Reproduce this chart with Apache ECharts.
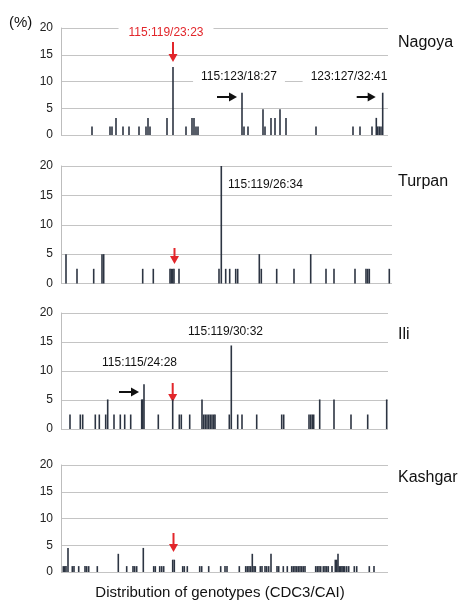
<!DOCTYPE html>
<html>
<head>
<meta charset="utf-8">
<script src="https://cdn.jsdelivr.net/npm/echarts@6/dist/echarts.min.js"></script>
<style>
  html, body { margin: 0; padding: 0; background: #fff; }
  #chart { width: 458px; height: 601px; }
</style>
</head>
<body>
<div id="chart"></div>
<script>
// genotype positions along the x axis (genotype order) and frequencies (%)
const nagoyaPos = [31, 49, 51, 55, 62, 68, 78, 85, 87, 89, 106, 112, 125, 131, 133, 135, 137, 181, 183, 187,
  202, 204, 210, 214, 219, 225, 255, 292, 299, 311, 315.3, 316.7, 318.3, 320, 321.7];
const nagoyaPct = [1.6, 1.6, 1.6, 3.2, 1.6, 1.6, 1.6, 1.6, 3.2, 1.6, 3.2, 12.7, 1.6, 3.2, 3.2, 1.6, 1.6, 7.9, 1.6, 1.6,
  4.8, 1.6, 3.2, 3.2, 4.8, 3.2, 1.6, 1.6, 1.6, 1.6, 3.2, 1.6, 1.6, 1.6, 7.9];

const turpanPos = [5, 16, 32.7, 41, 42.7, 81.7, 92.3, 109, 110.3, 111.7, 113, 118, 158, 160.3, 164.7, 168.7, 174.7, 176.7,
  198.3, 200.3, 215.7, 233, 249.7, 265, 273, 294, 305, 306.7, 308.3, 328.3];
const turpanPct = [5, 2.5, 2.5, 5, 5, 2.5, 2.5, 2.5, 2.5, 2.5, 2.5, 2.5, 2.5, 20, 2.5, 2.5, 2.5, 2.5,
  5, 2.5, 2.5, 2.5, 5, 2.5, 2.5, 2.5, 2.5, 2.5, 2.5, 2.5];

const iliPos = [9, 19.3, 21.7, 34.3, 38.3, 44.7, 46.7, 53, 59.3, 63.7, 69.7, 80.7, 81.7, 83, 97.3, 111.7, 118.3, 120.3,
  128.7, 141, 142.7, 144.3, 146, 147.7, 149.3, 151, 152.7, 154, 168.3, 170.3, 176.7, 181, 195.7, 220.7, 222.7,
  248, 249.7, 251.3, 252.7, 258.7, 273, 290, 306.7, 325.7];
const iliPct = [2.5, 2.5, 2.5, 2.5, 2.5, 2.5, 5.1, 2.5, 2.5, 2.5, 2.5, 5.1, 5.1, 7.7, 2.5, 5.1, 2.5, 2.5,
  2.5, 5.1, 2.5, 2.5, 2.5, 2.5, 2.5, 2.5, 2.5, 2.5, 2.5, 14.4, 2.5, 2.5, 2.5, 2.5, 2.5,
  2.5, 2.5, 2.5, 2.5, 5.1, 5.1, 2.5, 2.5, 5.1];

const kashgarPos = [2.3, 3.7, 5, 7, 11.3, 13, 17.7, 24, 25.7, 27.7, 36.3, 57.3, 65.7, 72, 73.7, 75.7, 82.3,
  92.7, 94.3, 98.7, 100.7, 102.7, 111.7, 113.3, 121.7, 123.3, 126.3, 138.7, 140.7, 147.7, 159.7, 164, 166,
  178.3, 184.7, 186.3, 188, 189.7, 191.3, 193, 194.3, 199.3, 201, 204, 205.7, 207.7, 210, 216, 217.7, 222.3,
  226.3, 230.7, 232.3, 234, 235.7, 237.3, 239, 240.7, 242.3, 244, 254.7, 256.3, 258, 259.7, 262.3, 264,
  265.7, 267.3, 271, 274.3, 275.7, 277, 278.3, 279.7, 281, 282.3, 283.7, 285.7, 287.7, 293.3, 295.7, 308.3, 313];
const kashgarPct = [1.1, 1.1, 1.1, 4.5, 1.1, 1.1, 1.1, 1.1, 1.1, 1.1, 1.1, 3.4, 1.1, 1.1, 1.1, 1.1, 4.5,
  1.1, 1.1, 1.1, 1.1, 1.1, 2.3, 2.3, 1.1, 1.1, 1.1, 1.1, 1.1, 1.1, 1.1, 1.1, 1.1,
  1.1, 1.1, 1.1, 1.1, 1.1, 3.4, 1.1, 1.1, 1.1, 1.1, 1.1, 1.1, 1.1, 3.4, 1.1, 1.1, 1.1,
  1.1, 1.1, 1.1, 1.1, 1.1, 1.1, 1.1, 1.1, 1.1, 1.1, 1.1, 1.1, 1.1, 1.1, 1.1, 1.1,
  1.1, 1.1, 1.1, 2.3, 2.3, 3.4, 1.1, 1.1, 1.1, 1.1, 1.1, 1.1, 1.1, 1.1, 1.1, 1.1, 1.1];

const regions = ['Nagoya', 'Turpan', 'Ili', 'Kashgar'];
const yTicks = [0, 5, 10, 15, 20];
const xLabel = 'Distribution of genotypes (CDC3/CAI)';

const panels = [
  { pos: nagoyaPos, pct: nagoyaPct, top: 28, height: 107, width: 327 },
  { pos: turpanPos, pct: turpanPct, top: 166, height: 117.5, width: 331 },
  { pos: iliPos, pct: iliPct, top: 313, height: 116, width: 327 },
  { pos: kashgarPos, pct: kashgarPct, top: 465, height: 107, width: 327 }
];

const FONT = '"Liberation Sans", Arial, Helvetica, sans-serif';
const BAR = '#2c3442';
const RED = '#e2262b';

const chart = echarts.init(document.getElementById('chart'));

const option = {
  animation: false,
  backgroundColor: '#fff',
  grid: panels.map(p => ({ left: 61, top: p.top, width: p.width, height: p.height })),
  xAxis: panels.map((p, i) => ({
    type: 'value', gridIndex: i, min: 0, max: p.width,
    axisLine: { show: false }, axisTick: { show: false },
    axisLabel: { show: false }, splitLine: { show: false }
  })),
  yAxis: panels.map((p, i) => ({
    type: 'value', gridIndex: i, min: yTicks[0], max: yTicks[yTicks.length - 1], interval: 5,
    axisLine: { show: true, lineStyle: { color: '#bdbdbd', width: 1 } },
    axisTick: { show: false },
    axisLabel: { color: '#222', fontSize: 12, fontFamily: FONT, margin: 8 },
    splitLine: { show: true, lineStyle: { color: '#c4c4c4', width: 1 } }
  })),
  series: panels.map((p, i) => ({
    name: regions[i],
    type: 'bar',
    xAxisIndex: i, yAxisIndex: i,
    barWidth: 1.6,
    itemStyle: { color: BAR },
    data: p.pos.map((x, k) => [x, p.pct[k]])
  }))
};
chart.setOption(option);

// helpers for annotations
function px(gridIdx, x, y) {
  return chart.convertToPixel({ gridIndex: gridIdx }, [x, y]);
}
function arrowDown(x, y1, y2, color) {
  return {
    type: 'group',
    children: [
      { type: 'line', shape: { x1: x, y1: y1, x2: x, y2: y2 - 6 }, style: { stroke: color, lineWidth: 2 } },
      { type: 'polygon', shape: { points: [[x - 4.5, y2 - 8], [x + 4.5, y2 - 8], [x, y2]] }, style: { fill: color } }
    ]
  };
}
function arrowRight(x1, x2, y, color) {
  return {
    type: 'group',
    children: [
      { type: 'line', shape: { x1: x1, y1: y, x2: x2 - 6, y2: y }, style: { stroke: color, lineWidth: 2 } },
      { type: 'polygon', shape: { points: [[x2 - 8, y - 4.5], [x2 - 8, y + 4.5], [x2, y]] }, style: { fill: color } }
    ]
  };
}
function label(text, x, y, opts) {
  return {
    type: 'text', x: x, y: y, z: 10,
    style: Object.assign({
      text: text, fill: '#111', fontSize: 12, fontFamily: FONT,
      textAlign: 'left', textVerticalAlign: 'middle'
    }, opts || {})
  };
}

const g = [];
// region names
const nameY = [43, 182, 335, 478];
regions.forEach((r, i) => g.push(label(r, 398, nameY[i], { fontSize: 16 })));
g.push(label('(%)', 9, 23, { fontSize: 15 }));

// Nagoya annotations
const a1 = px(0, 112, 0);
g.push(label('115:119/23:23', 166, 33, { fill: RED, textAlign: 'center', backgroundColor: '#fff', padding: [2, 10] }));
g.push(arrowDown(a1[0], 42, 62, RED));
g.push(label('115:123/18:27', 239, 77, { textAlign: 'center', backgroundColor: '#fff', padding: [2, 8] }));
g.push(label('123:127/32:41', 349, 77, { textAlign: 'center', backgroundColor: '#fff', padding: [2, 8] }));
const b1 = px(0, 181, 7.9);
g.push(arrowRight(b1[0] - 25, b1[0] - 5, 97, '#111'));
const b2 = px(0, 321.7, 7.9);
g.push(arrowRight(b2[0] - 26, b2[0] - 7, 97, '#111'));

// Turpan annotations
g.push(label('115:119/26:34', 228, 185));
const a2 = px(1, 112.5, 0);
g.push(arrowDown(a2[0] + 1, 248, 264, RED));

// Ili annotations
g.push(label('115:119/30:32', 225.5, 332, { textAlign: 'center' }));
g.push(label('115:115/24:28', 139.5, 363, { textAlign: 'center' }));
const b3 = px(2, 83, 7.7);
g.push(arrowRight(b3[0] - 25, b3[0] - 5, 392, '#111'));
const a3 = px(2, 111.7, 0);
g.push(arrowDown(a3[0], 383, 402, RED));

// Kashgar annotations
const a4 = px(3, 112.5, 0);
g.push(arrowDown(a4[0], 533, 552, RED));
g.push(label(xLabel, 220, 593, { fontSize: 15, textAlign: 'center' }));

chart.setOption({ graphic: g });
</script>
</body>
</html>
